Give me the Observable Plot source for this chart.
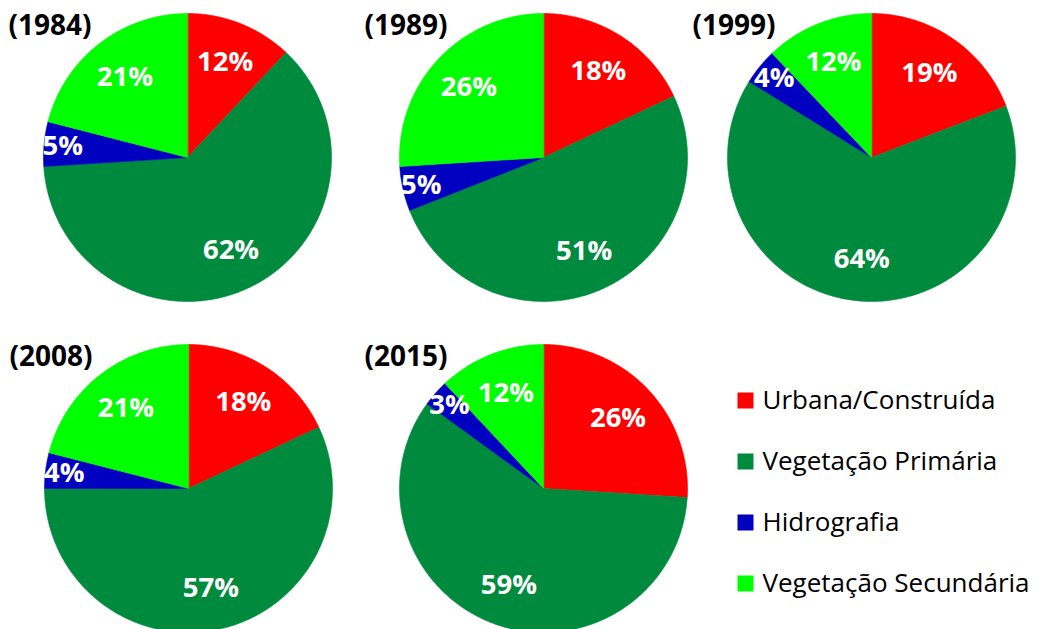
<!DOCTYPE html>
<html>
<head>
<meta charset="utf-8">
<script src="https://cdn.jsdelivr.net/npm/d3@7"></script>
<script src="https://cdn.jsdelivr.net/npm/@observablehq/plot@0.6"></script>
<style>
  html, body { margin: 0; padding: 0; background: #fff; }
</style>
</head>
<body>
<div id="chart"></div>
<script>
// ---- data ----
const years = ["(1984)", "(1989)", "(1999)", "(2008)", "(2015)"];
const categories = ["Urbana/Construída", "Vegetação Primária", "Hidrografia", "Vegetação Secundária"];
const urbana     = [12, 18, 19, 18, 26];
const primaria   = [62, 51, 64, 57, 59];
const hidrografia = [5, 5, 4, 4, 3];
const secundaria = [21, 26, 12, 21, 12];
const colors = ["#ff0000", "#008a3e", "#0000c0", "#00ff00"];

// ---- layout ----
const W = 1043, H = 629;
const centers = [[187, 157], [543, 157], [871, 157], [188, 488], [543, 488]];
const R = 144;
const series = [urbana, primaria, hidrografia, secundaria];

const slicePts = [];
const labels = [];
const titles = [];
years.forEach((yr, i) => {
  const [cx, cy] = centers[i];
  const vals = series.map(s => s[i]);
  const total = d3.sum(vals);
  let acc = 0;
  titles.push({text: yr, x: cx - 179, y: cy - 131});
  vals.forEach((v, j) => {
    const a0 = acc / total * 2 * Math.PI;
    acc += v;
    const a1 = acc / total * 2 * Math.PI;
    const key = yr + "|" + categories[j];
    slicePts.push({key, cat: categories[j], px: cx, py: cy});
    const n = Math.max(2, Math.ceil((a1 - a0) / (Math.PI / 180)));
    for (let k = 0; k <= n; k++) {
      const a = a0 + (a1 - a0) * k / n;
      slicePts.push({key, cat: categories[j], px: cx + R * Math.sin(a), py: cy - R * Math.cos(a)});
    }
    const am = (a0 + a1) / 2;
    const f = v < 10 ? 0.87 : 0.71;
    labels.push({text: v + "%", x: cx + f * R * Math.sin(am), y: cy - f * R * Math.cos(am)});
  });
});

const legend = categories.map((c, j) => ({cat: c, x: 745, y: 400 + j * 61}));

const chart = Plot.plot({
  width: W,
  height: H,
  margin: 0,
  x: {type: "linear", domain: [0, W], range: [0, W], axis: null},
  y: {type: "linear", domain: [0, H], range: [0, H], axis: null},
  color: {domain: categories, range: colors},
  style: {fontFamily: "'Open Sans', sans-serif", background: "#fff"},
  marks: [
    Plot.line(slicePts, {x: "px", y: "py", z: "key", fill: "cat", stroke: "cat", strokeWidth: 0.6, curve: "linear-closed"}),
    Plot.text(labels, {x: "x", y: "y", text: "text", fill: "white", fontSize: 27.5, fontWeight: "bold"}),
    Plot.text(titles, {x: "x", y: "y", text: "text", fill: "black", fontSize: 28, fontWeight: "bold", textAnchor: "start"}),
    Plot.dot(legend, {x: "x", y: "y", fill: "cat", symbol: "square", r: 9.03, stroke: null}),
    Plot.text(legend, {x: d => d.x + 17, y: "y", text: "cat", fill: "black", fontSize: 26, textAnchor: "start"})
  ]
});
document.getElementById("chart").appendChild(chart);
</script>
</body>
</html>
